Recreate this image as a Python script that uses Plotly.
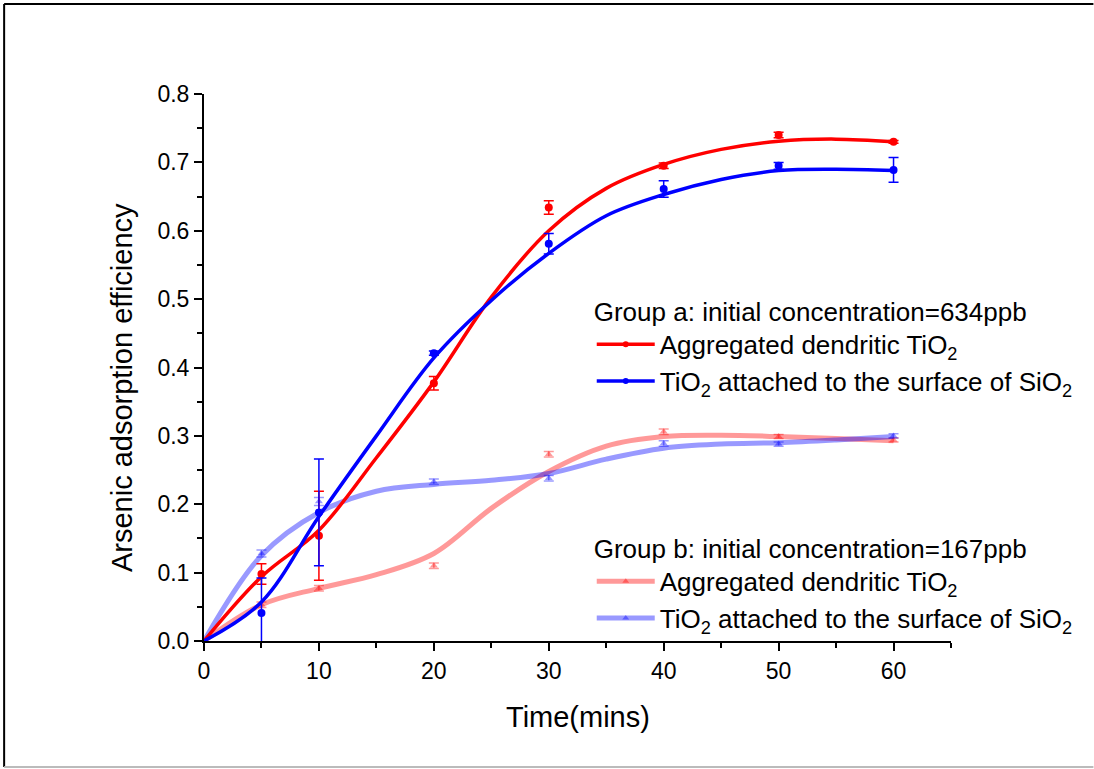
import plotly.graph_objects as go

# ---------------- data ----------------
time_pts = [5, 10, 20, 30, 40, 50, 60]

a_dendritic = [0.098, 0.154, 0.377, 0.634, 0.695, 0.740, 0.730]
a_dendritic_err = [0.015, 0.065, 0.010, 0.010, 0.004, 0.004, 0.002]
a_sio2 = [0.041, 0.188, 0.421, 0.581, 0.661, 0.695, 0.689]
a_sio2_err = [0.051, 0.078, 0.003, 0.015, 0.012, 0.005, 0.018]

b_dendritic = [0.053, 0.077, 0.110, 0.273, 0.306, 0.299, 0.294]
b_dendritic_err = [0.004, 0.004, 0.004, 0.004, 0.004, 0.003, 0.003]
b_sio2 = [0.128, 0.204, 0.233, 0.238, 0.289, 0.288, 0.300]
b_sio2_err = [0.005, 0.006, 0.004, 0.004, 0.004, 0.003, 0.003]

# fitted curves
curve_t = [0, 5, 10, 15, 20, 25, 30, 35, 40, 45, 50, 55, 60]
a_dendritic_fit = [0, 0.094, 0.162, 0.268, 0.379, 0.503, 0.600, 0.662, 0.697, 0.719, 0.731, 0.734, 0.730]
a_sio2_fit = [0, 0.057, 0.182, 0.300, 0.414, 0.498, 0.567, 0.622, 0.653, 0.675, 0.688, 0.690, 0.688]
b_dendritic_fit = [0, 0.053, 0.077, 0.097, 0.128, 0.194, 0.248, 0.285, 0.299, 0.301, 0.299, 0.296, 0.293]
b_sio2_fit = [0, 0.125, 0.188, 0.219, 0.229, 0.235, 0.245, 0.266, 0.282, 0.288, 0.290, 0.294, 0.299]

x_ticks = [0, 10, 20, 30, 40, 50, 60]
y_ticks = [0.0, 0.1, 0.2, 0.3, 0.4, 0.5, 0.6, 0.7, 0.8]

label_dendritic = "Aggregated dendritic TiO<sub>2</sub>"
label_sio2 = "TiO<sub>2</sub> attached to the surface of SiO<sub>2</sub>"
title_a = "Group a: initial concentration=634ppb"
title_b = "Group b: initial concentration=167ppb"

# ---------------- style ----------------
RED = "#FF0000"
BLUE = "#0000FF"
LRED = "rgba(255,0,0,0.40)"
LBLUE = "rgba(0,0,255,0.40)"
FONT = "Liberation Sans, Arial, sans-serif"

W, H = 1094, 769
L, R, T, B = 204, W - 951.5, 94, H - 641

fig = go.Figure()

series = [
    (b_dendritic_fit, b_dendritic, b_dendritic_err, LRED, "triangle-up", 7, 5, label_dendritic, "legend2"),
    (b_sio2_fit, b_sio2, b_sio2_err, LBLUE, "triangle-up", 7, 5, label_sio2, "legend2"),
    (a_dendritic_fit, a_dendritic, a_dendritic_err, RED, "circle", 8, 3.5, label_dendritic, "legend"),
    (a_sio2_fit, a_sio2, a_sio2_err, BLUE, "circle", 8, 3.5, label_sio2, "legend"),
]

for fit, vals, err, col, sym, msize, lw, name, leg in series:
    fig.add_trace(go.Scatter(
        x=curve_t, y=fit, mode="lines",
        line=dict(color=col, width=lw, shape="spline", smoothing=1.0),
        showlegend=False, hoverinfo="skip"))
    fig.add_trace(go.Scatter(
        x=time_pts, y=vals, mode="markers",
        marker=dict(color=col, symbol=sym, size=msize),
        error_y=dict(type="data", array=err, visible=True, color=col, thickness=1.5, width=5),
        showlegend=False))

# legend entries
legend_order = [
    (label_dendritic, RED, "circle", 3.5, "legend"),
    (label_sio2, BLUE, "circle", 3.5, "legend"),
    (label_dendritic, LRED, "triangle-up", 5, "legend2"),
    (label_sio2, LBLUE, "triangle-up", 5, "legend2"),
]
for name, col, sym, lw, leg in legend_order:
    fig.add_trace(go.Scatter(
        x=[None], y=[None], mode="lines+markers", name=name,
        line=dict(color=col, width=lw),
        marker=dict(color=col, symbol=sym, size=6),
        legend=leg))

pw = W - L - R
ph = H - T - B


def px_x(p):
    return (p - L) / pw


def px_y(p):
    return (H - B - p) / ph


axis_common = dict(
    showline=True, linecolor="black", linewidth=2,
    ticks="outside", ticklen=8, tickwidth=2, tickcolor="black",
    showgrid=False, zeroline=False, mirror=False,
    tickfont=dict(family=FONT, size=23, color="black"),
)

LEG_FONT = 26

fig.update_layout(
    width=W, height=H,
    margin=dict(l=L, r=R, t=T, b=B),
    paper_bgcolor="white", plot_bgcolor="white",
    xaxis=dict(range=[0, 65], tickvals=x_ticks,
               minor=dict(dtick=5, ticks="outside", ticklen=5, tickwidth=2, tickcolor="black"),
               **axis_common),
    yaxis=dict(range=[0, 0.8], tickvals=y_ticks, tickformat=".1f",
               minor=dict(dtick=0.05, ticks="outside", ticklen=5, tickwidth=2, tickcolor="black"),
               **axis_common),
    legend=dict(
        x=px_x(592), y=px_y(287), xanchor="left", yanchor="top",
        bgcolor="rgba(0,0,0,0)", borderwidth=0,
        font=dict(family=FONT, size=LEG_FONT, color="black"),
        title=dict(text=title_a, font=dict(family=FONT, size=LEG_FONT, color="black")),
        tracegroupgap=0, itemwidth=58,
    ),
    legend2=dict(
        x=px_x(592), y=px_y(524), xanchor="left", yanchor="top",
        bgcolor="rgba(0,0,0,0)", borderwidth=0,
        font=dict(family=FONT, size=LEG_FONT, color="black"),
        title=dict(text=title_b, font=dict(family=FONT, size=LEG_FONT, color="black")),
        tracegroupgap=0, itemwidth=58,
    ),
    annotations=[
        dict(text="Arsenic adsorption efficiency", textangle=-90,
             xref="paper", yref="paper", x=px_x(122), y=px_y(388),
             xanchor="center", yanchor="middle", showarrow=False,
             font=dict(family=FONT, size=29, color="black")),
        dict(text="Time(mins)",
             xref="paper", yref="paper", x=px_x(578), y=px_y(717),
             xanchor="center", yanchor="middle", showarrow=False,
             font=dict(family=FONT, size=29, color="black")),
    ],
    shapes=[
        dict(type="line", xref="paper", yref="paper", x0=px_x(4), x1=px_x(4), y0=px_y(4), y1=px_y(767),
             line=dict(color="black", width=2)),
        dict(type="line", xref="paper", yref="paper", x0=px_x(4), x1=px_x(1094), y0=px_y(4), y1=px_y(4),
             line=dict(color="black", width=2)),
        dict(type="line", xref="paper", yref="paper", x0=px_x(4), x1=px_x(1094), y0=px_y(767), y1=px_y(767),
             line=dict(color="#BBBBBB", width=2)),
    ],
)

fig.write_html("out.html")
